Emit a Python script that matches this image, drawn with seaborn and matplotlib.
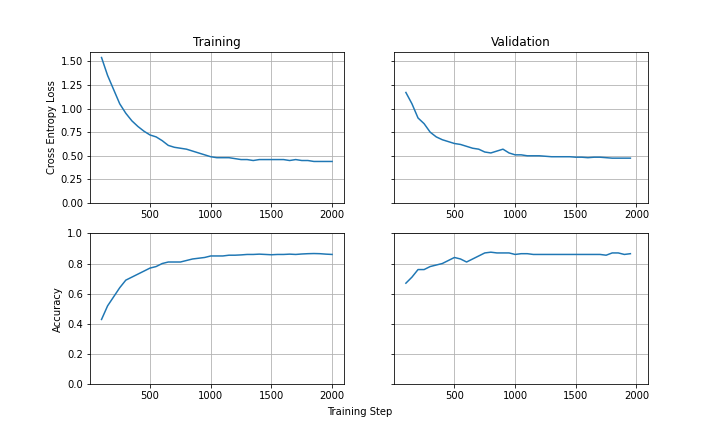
import matplotlib
matplotlib.use("Agg")
import matplotlib.pyplot as plt
import seaborn as sns
import numpy as np

train_steps = list(range(100, 2001, 50))
train_loss = [1.54, 1.35, 1.20, 1.05, 0.95, 0.87, 0.81, 0.76, 0.72, 0.70, 0.66, 0.61,
              0.59, 0.58, 0.57, 0.55, 0.53, 0.51, 0.49, 0.48, 0.48, 0.48, 0.47, 0.46,
              0.46, 0.45, 0.46, 0.46, 0.46, 0.46, 0.46, 0.45, 0.46, 0.45, 0.45, 0.44,
              0.44, 0.44, 0.44]
train_acc = [0.43, 0.52, 0.58, 0.64, 0.69, 0.71, 0.73, 0.75, 0.77, 0.78, 0.80, 0.81,
             0.81, 0.81, 0.82, 0.83, 0.835, 0.84, 0.85, 0.85, 0.85, 0.855, 0.855, 0.857,
             0.86, 0.86, 0.862, 0.86, 0.858, 0.86, 0.86, 0.862, 0.86, 0.863, 0.865, 0.866,
             0.865, 0.862, 0.86]

val_steps = list(range(100, 1951, 50))
val_loss = [1.17, 1.05, 0.90, 0.84, 0.75, 0.70, 0.67, 0.65, 0.63, 0.62, 0.60, 0.58,
            0.57, 0.54, 0.53, 0.55, 0.57, 0.53, 0.51, 0.51, 0.50, 0.50, 0.50, 0.495,
            0.49, 0.49, 0.49, 0.49, 0.485, 0.485, 0.48, 0.485, 0.485, 0.48, 0.475, 0.475,
            0.475, 0.475]
val_acc = [0.67, 0.71, 0.76, 0.76, 0.78, 0.79, 0.80, 0.82, 0.84, 0.83, 0.81, 0.83,
           0.85, 0.87, 0.875, 0.87, 0.87, 0.87, 0.86, 0.865, 0.865, 0.86, 0.86, 0.86,
           0.86, 0.86, 0.86, 0.86, 0.86, 0.86, 0.86, 0.86, 0.86, 0.855, 0.87, 0.87,
           0.86, 0.865]

fig, axes = plt.subplots(2, 2, figsize=(10, 6), dpi=72, sharex=True, sharey="row")

panels = [
    (axes[0, 0], train_steps, train_loss),
    (axes[0, 1], val_steps, val_loss),
    (axes[1, 0], train_steps, train_acc),
    (axes[1, 1], val_steps, val_acc),
]
for ax, x, y in panels:
    sns.lineplot(x=x, y=y, ax=ax, color="tab:blue")
    ax.grid(True)
    ax.set_axisbelow(True)
    ax.xaxis.set_tick_params(labelbottom=True)

axes[0, 0].set_title("Training")
axes[0, 1].set_title("Validation")
axes[0, 0].set_ylabel("Cross Entropy Loss")
axes[1, 0].set_ylabel("Accuracy")
axes[0, 0].set_ylim(0, 1.6)
axes[0, 0].set_yticks(np.arange(0, 1.51, 0.25))
axes[1, 0].set_ylim(0, 1.0)
axes[0, 0].set_xticks([500, 1000, 1500, 2000])
fig.text(0.5, 0.04, "Training Step", ha="center")

fig.savefig("out.png", dpi=72)
